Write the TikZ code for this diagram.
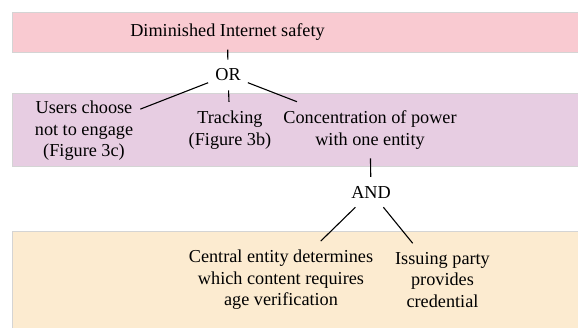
\documentclass[tikz,border=0pt]{standalone}
\usepackage{fontspec}
\setmainfont{Liberation Serif}
\definecolor{bandpink}{RGB}{249,202,209}
\definecolor{bandpurple}{RGB}{231,205,226}
\definecolor{bandyellow}{RGB}{252,235,208}
\definecolor{bandedge}{RGB}{212,212,212}
\begin{document}
\begin{tikzpicture}[x=1bp,y=-1bp,
  band/.style={draw=bandedge,line width=1bp},
  lbl/.style={font=\fontsize{18.3}{21.5}\selectfont,align=center,inner xsep=7bp,inner ysep=9bp},
  conn/.style={line width=1.1bp,black}]
\useasboundingbox (0,0) rectangle (578,327);
\fill[white] (0,0) rectangle (578,327);
\path[band,fill=bandpink] (12,12) rectangle (590,52);
\path[band,fill=bandpurple] (12,93) rectangle (590,166);
\path[band,fill=bandyellow] (12,231) rectangle (590,340);

\node[lbl] (top) at (227.5,32) {Diminished Internet safety};
\node[lbl] (or) at (228,75) {OR};
\node[lbl] (users) at (84,131) {Users choose\\not to engage\\(Figure 3c)};
\node[lbl] (track) at (230,130) {Tracking\\(Figure 3b)};
\node[lbl] (conc) at (370,130) {Concentration of power\\with one entity};
\node[lbl] (and) at (371,192) {AND};
\node[lbl] (central) at (281,280) {Central entity determines\\which content requires\\age verification};
\node[lbl] (issue) at (442.5,280) {Issuing party\\provides\\credential};

\draw[conn] (top) -- (or);
\draw[conn] (or) -- (users);
\draw[conn] (or) -- (track);
\draw[conn] (or) -- (conc);
\draw[conn] (conc) -- (and);
\draw[conn] (and) -- (central);
\draw[conn] (and) -- (issue);
\end{tikzpicture}
\end{document}
